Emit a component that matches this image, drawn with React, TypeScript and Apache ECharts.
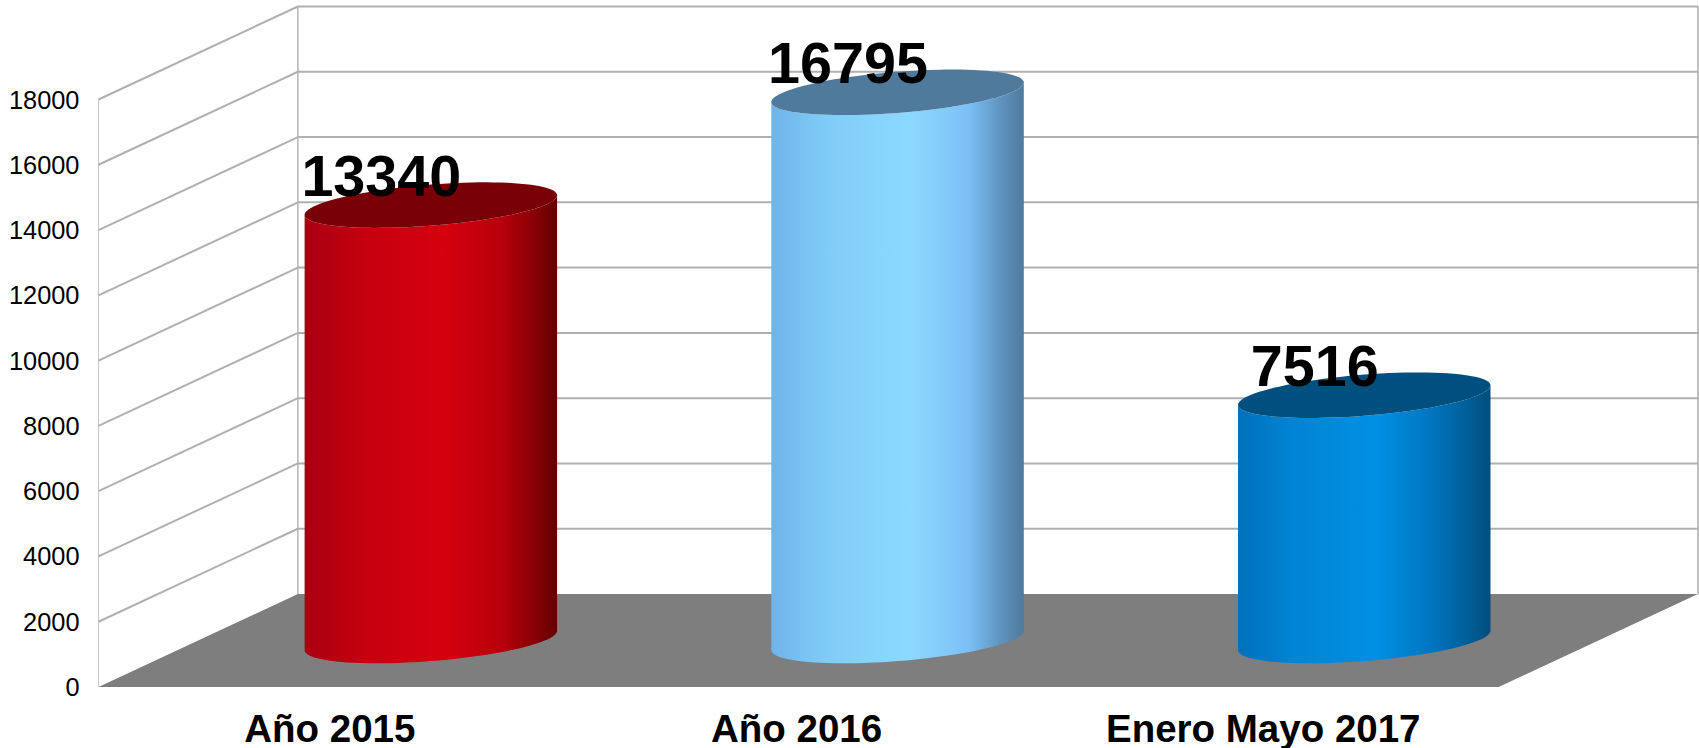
import React, { useEffect, useRef } from "react";
import * as echarts from "echarts";

const categories = ["Año 2015", "Año 2016", "Enero Mayo 2017"];
const values = [13340, 16795, 7516];
const tickValues = [0, 2000, 4000, 6000, 8000, 10000, 12000, 14000, 16000, 18000];

const bodyStops = [
  [[0, "#a80012"], [0.22, "#c4000f"], [0.55, "#d6000e"], [0.78, "#b8000b"], [0.92, "#840004"], [1, "#640000"]],
  [[0, "#6fb4e8"], [0.22, "#80ccf8"], [0.55, "#8cd9ff"], [0.78, "#7cc0f6"], [0.92, "#5d90bb"], [1, "#4d7a9e"]],
  [[0, "#0072ba"], [0.22, "#0084d4"], [0.55, "#0090e4"], [0.78, "#0074bc"], [0.92, "#005c94"], [1, "#004e7c"]],
];
const topColors = ["#780006", "#4f7a9c", "#00507f"];

const DEPTH_X = 199.4;
const DEPTH_Y = 93;
const GRID_LINE = "#b0b0b0";
const RADIUS_RATIO = 0.2705;
const TILT = 9.75;
const MINOR = 20.6;
const FONT = '"Liberation Sans", Arial, sans-serif';

function ellipse(cx: number, cy: number, rx: number, from: number, to: number, n = 48) {
  const pts: number[][] = [];
  for (let i = 0; i <= n; i++) {
    const t = from + ((to - from) * i) / n;
    pts.push([cx + Math.cos(t) * rx, cy - Math.cos(t) * TILT + Math.sin(t) * MINOR]);
  }
  return pts;
}

const renderWall = (params: any, api: any) => {
  const cs = params.coordSys;
  const y = api.coord([0, api.value(0)])[1];
  const line = (x1: number, y1: number, x2: number, y2: number, width = 2, color = GRID_LINE) => ({
    type: "line",
    shape: { x1, y1, x2, y2 },
    style: { stroke: color, lineWidth: width },
  });
  const children: any[] = [];
  const left = cs.x;
  const right = cs.x + cs.width;
  if (params.dataIndex === 0) {
    const top = api.coord([0, tickValues[tickValues.length - 1]])[1];
    children.push(line(left, top, left, y, 1, "#c8c8c8"));
    children.push(line(left + DEPTH_X, top - DEPTH_Y, left + DEPTH_X, y - DEPTH_Y, 1.4, "#b0b0b0"));
    children.push(line(right + DEPTH_X, top - DEPTH_Y, right + DEPTH_X, y - DEPTH_Y, 1.8, "#b8b8b8"));
    children.push({
      type: "polygon",
      shape: {
        points: [
          [left, y],
          [right, y],
          [right + DEPTH_X, y - DEPTH_Y],
          [left + DEPTH_X, y - DEPTH_Y],
        ],
      },
      style: { fill: "#7e7e7e" },
    });
  } else {
    children.push(line(left, y, left + DEPTH_X, y - DEPTH_Y));
    children.push(line(left + DEPTH_X, y - DEPTH_Y, right + DEPTH_X, y - DEPTH_Y));
  }
  return { type: "group", children };
};

const renderCylinder = (params: any, api: any) => {
  const i = api.value(0);
  const v = api.value(1);
  const centre = api.coord([i, v]);
  const base = api.coord([i, 0]);
  const band = api.size([1, 0])[0];
  const rx = band * RADIUS_RATIO;
  const cx = centre[0] + DEPTH_X / 2 - 0.7;
  const topY = centre[1] - DEPTH_Y / 2;
  const botY = base[1] - DEPTH_Y / 2;
  const frontTop = ellipse(cx, topY, rx, Math.PI, 0);
  const frontBot = ellipse(cx, botY, rx, 0, Math.PI);
  return {
    type: "group",
    children: [
      {
        type: "polygon",
        shape: { points: [...frontTop, ...frontBot] },
        style: {
          fill: new echarts.graphic.LinearGradient(
            0,
            0,
            1,
            0,
            bodyStops[i].map(([offset, color]) => ({ offset: offset as number, color: color as string })),
          ),
        },
      },
      {
        type: "polygon",
        shape: { points: ellipse(cx, topY, rx, 0, Math.PI * 2, 96) },
        style: { fill: topColors[i] },
      },
      {
        type: "text",
        style: {
          text: String(v),
          x: cx - 49.5,
          y: topY - 29,
          align: "center",
          verticalAlign: "middle",
          font: `bold 57.5px ${FONT}`,
          fill: "#000000",
        },
      },
    ],
  };
};

export default function App() {
  const ref = useRef<HTMLDivElement>(null);
  useEffect(() => {
    document.body.style.margin = "0";
    const chart = echarts.init(ref.current!, null, { renderer: "svg" });
    chart.setOption({
      animation: false,
      backgroundColor: "#ffffff",
      grid: { left: 98.5, right: 200.4, top: 99.5, bottom: 61 },
      xAxis: {
        type: "category",
        data: categories,
        axisLine: { show: false },
        axisTick: { show: false },
        splitLine: { show: false },
        axisLabel: {
          margin: 22,
          color: "#000000",
          fontFamily: FONT,
          fontWeight: "bold",
          fontSize: 38.5,
          lineHeight: 38,
          padding: [0, 4, 0, 0],
        },
      },
      yAxis: {
        type: "value",
        min: 0,
        max: 18000,
        interval: 2000,
        axisLine: { show: false },
        axisTick: { show: false },
        splitLine: { show: false },
        axisLabel: {
          margin: 19,
          color: "#000000",
          fontFamily: FONT,
          fontSize: 25.4,
          formatter: (val: number) => String(val),
        },
      },
      series: [
        {
          type: "custom",
          name: "walls",
          silent: true,
          renderItem: renderWall,
          encode: { y: 0 },
          data: tickValues.map((t) => [t]),
          z: 1,
        },
        {
          type: "custom",
          name: "values",
          silent: true,
          renderItem: renderCylinder,
          encode: { x: 0, y: 1 },
          data: values.map((v, i) => [i, v]),
          z: 2,
        },
      ],
    });
    return () => chart.dispose();
  }, []);
  return <div ref={ref} style={{ position: "absolute", left: 0, top: 0, width: 1699, height: 748 }} />;
}
